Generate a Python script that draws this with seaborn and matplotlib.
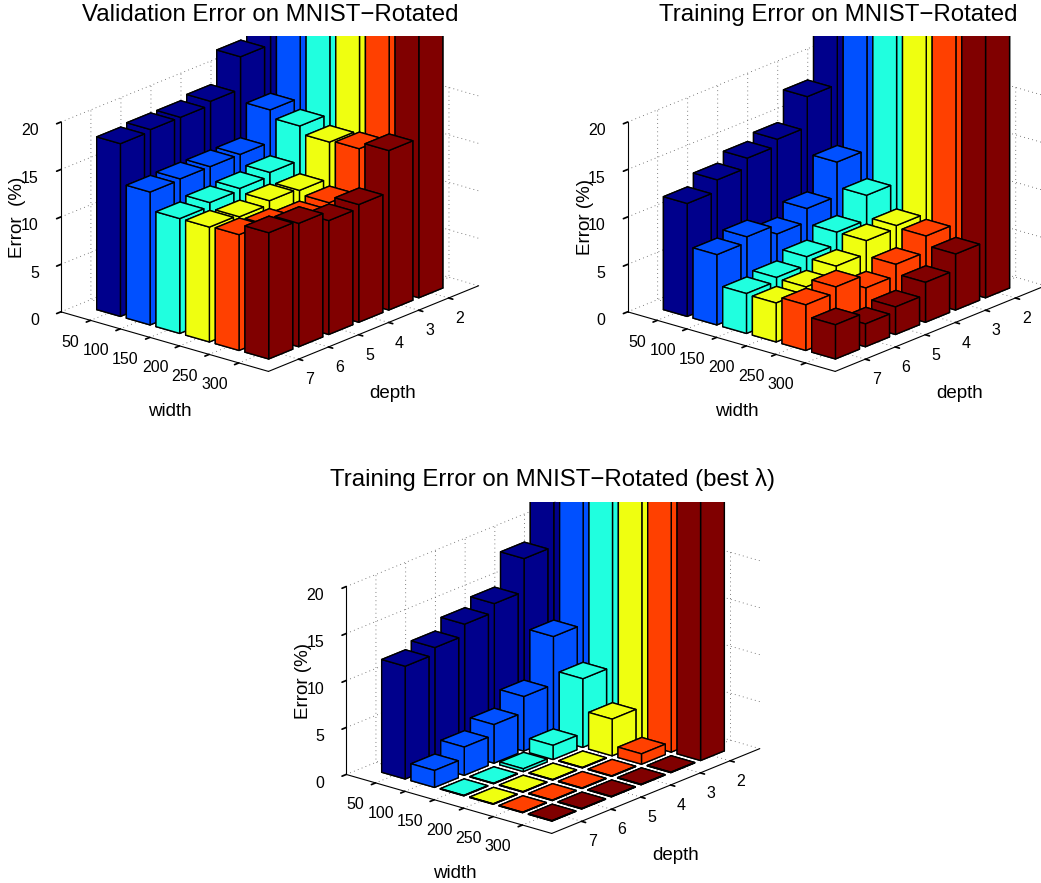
import matplotlib
matplotlib.use("Agg")
import matplotlib.pyplot as plt
import seaborn as sns
from matplotlib.transforms import Bbox, ScaledTranslation

widths = [50, 100, 150, 200, 250, 300]
depths = [2, 3, 4, 5, 6, 7]
error_ticks = [0, 5, 10, 15, 20]

# rows are widths, columns are depth 2..7. depth 2 runs off the top of the axes
val_error = [
    [34.0, 22.2, 18.8, 18.4, 18.4, 18.2],
    [33.0, 17.5, 14.1, 14.1, 14.1, 14.0],
    [33.0, 16.7, 13.1, 12.7, 12.5, 12.1],
    [33.0, 15.9, 12.1, 12.3, 11.9, 12.1],
    [33.0, 16.1, 11.7, 11.4, 11.9, 12.2],
    [33.0, 16.8, 12.4, 12.0, 13.0, 13.3],
]
train_error = [
    [34.0, 18.0, 14.8, 14.1, 13.1, 11.9],
    [33.0, 12.0, 8.4, 7.0, 8.0, 7.4],
    [33.0, 9.4, 6.8, 5.5, 4.6, 4.2],
    [33.0, 7.1, 6.8, 5.4, 4.5, 4.1],
    [33.0, 6.9, 5.2, 4.0, 5.4, 4.8],
    [33.0, 5.9, 4.2, 2.9, 2.4, 3.6],
]
best_error = [
    [34.0, 18.3, 14.8, 13.9, 12.7, 12.0],
    [33.0, 10.9, 5.8, 4.1, 3.0, 1.8],
    [33.0, 7.3, 1.5, 0.3, 0.05, 0.05],
    [33.0, 3.9, 0.05, 0.05, 0.05, 0.05],
    [33.0, 1.1, 0.05, 0.05, 0.05, 0.05],
    [33.0, 0.05, 0.05, 0.05, 0.05, 0.05],
]

jet_colors = ["#00008c", "#0050ff", "#20ffdf", "#efff10", "#ff4000", "#800000"]

sns.set_theme(style="white")
plt.rcParams["font.family"] = ["Liberation Sans", "DejaVu Sans"]
plt.rcParams["text.color"] = "black"
palette = sns.color_palette(jet_colors)

W, H = 1041, 883
fig = plt.figure(figsize=(W / 100, H / 100), dpi=100)


def nudge_labels(axis, dx, dy, ha):
    # 3d tick labels only have a pad, so shift them in pixels instead
    for tick in axis.get_major_ticks():
        label = tick.label1
        label.set_ha(ha)
        label.set_transform(label.get_transform() + ScaledTranslation(dx / 100, dy / 100, fig.dpi_scale_trans))


def draw_panel(values, cx, cy, scale, clip_top, title, title_xy, ylabel, ylabel_xy, width_xy, depth_xy):
    size = 456.5 * scale
    left = cx - 0.5135 * size
    top = cy - 0.4865 * size
    ax = fig.add_axes([left / W, 1 - (top + size) / H, size / W, size / H],
                      projection="3d", computed_zorder=False)
    ax.set_proj_type("ortho")
    ax.view_init(elev=20, azim=40)
    ax.set_box_aspect((327, 271, 202))
    ax.patch.set_alpha(0)

    # back rows first, we handle the draw order ourselves
    for d in range(len(depths)):
        for w in range(len(widths)):
            bar = ax.bar3d(depths[d] - 0.4, w + 0.6, 0, 0.8, 0.8,
                           values[w][d], color=palette[w], edgecolor="black",
                           linewidth=1.0, shade=False)
            bar.set_clip_box(Bbox([[0, 0], [W, H - clip_top]]))

    ax.set_xlim(1, 8, view_margin=0)
    ax.set_ylim(0, 7, view_margin=0)
    ax.set_zlim(0, 20, view_margin=0)
    ax.set_xticks(depths, [str(d) for d in depths])
    ax.set_yticks(range(1, 7), [str(w) for w in widths])
    ax.set_zticks(error_ticks, [str(z) for z in error_ticks])
    ax.tick_params(labelsize=11.5, colors="black", pad=1)

    nudge_labels(ax.xaxis, 1, 6, "center")
    nudge_labels(ax.yaxis, 1, 6, "right")
    nudge_labels(ax.zaxis, 10, 7, "right")

    for axis in (ax.xaxis, ax.yaxis, ax.zaxis):
        axis.set_pane_color((1, 1, 1, 0))
        axis.pane.set_edgecolor((1, 1, 1, 0))
        axis.line.set_color("black")
        axis.line.set_linewidth(0.8)
        axis._axinfo["grid"].update(color="#555555", linewidth=0.6, linestyle=(0, (1, 4)))
        axis._axinfo["tick"].update(inward_factor=0.25, outward_factor=0.0, color="black")
    ax.grid(True)

    fig.text(title_xy[0] / W, 1 - title_xy[1] / H, title, ha="center", va="center", fontsize=17.3)
    fig.text(ylabel_xy[0] / W, 1 - ylabel_xy[1] / H, ylabel, ha="center", va="center", rotation=90, fontsize=13.5)
    fig.text(width_xy[0] / W, 1 - width_xy[1] / H, "width", ha="center", va="center", fontsize=13.5)
    fig.text(depth_xy[0] / W, 1 - depth_xy[1] / H, "depth", ha="center", va="center", fontsize=13.5)
    return ax


draw_panel(val_error, 269.75, 203.9, 1.0, 36, "Validation Error on MNIST\u2212Rotated", (270.5, 15),
           "Error  (%)", (18, 217), (170, 412), (393, 393))
draw_panel(train_error, 836.5, 203.9, 1.0, 36, "Training Error on MNIST\u2212Rotated", (838, 15),
           "Error (%)", (585, 217), (737, 412), (960, 393))
draw_panel(best_error, 553, 667.6, 0.99, 501.7, "Training Error on MNIST\u2212Rotated (best \u03bb)", (552, 479),
           "Error (%)", (304, 681), (455, 874), (676, 855))

fig.savefig("out.png", dpi=100)
